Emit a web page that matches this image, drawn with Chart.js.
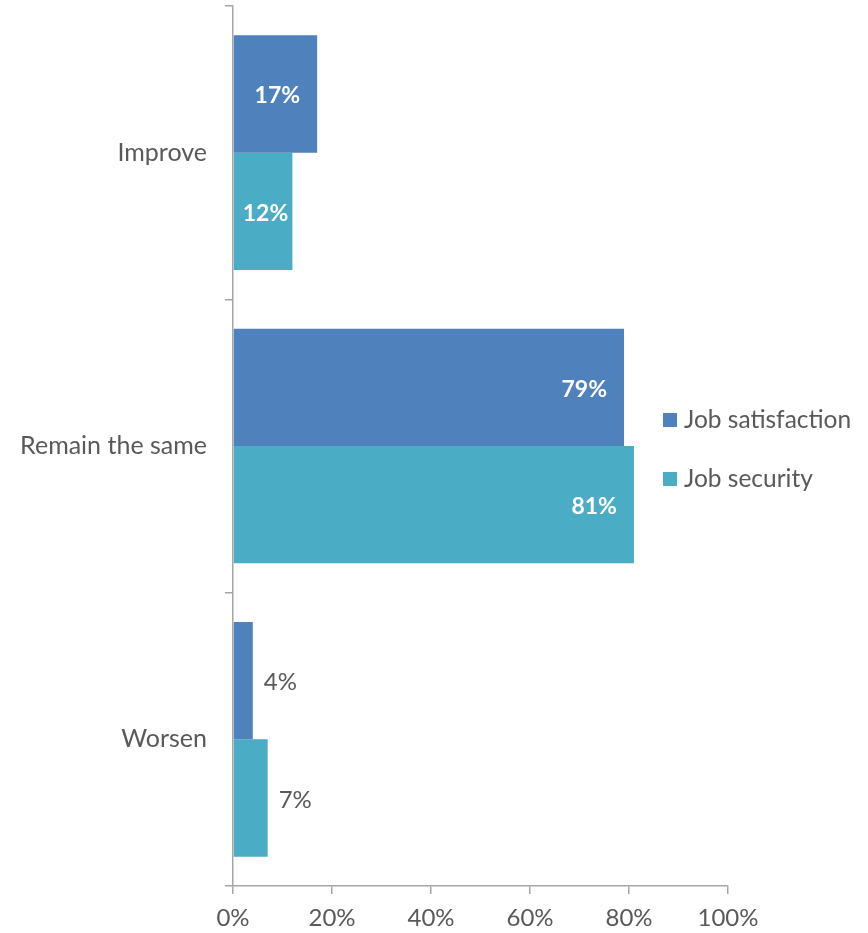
<!DOCTYPE html>
<html>
<head>
<meta charset="utf-8">
<script src="https://cdn.jsdelivr.net/npm/chart.js@4.4.1/dist/chart.umd.min.js"></script>
<style>
  html, body { margin: 0; padding: 0; background: #ffffff; }
  #wrap { width: 868px; height: 933px; position: relative; }
</style>
</head>
<body>
<div id="wrap"><canvas id="chart" width="868" height="933"></canvas></div>
<script>
// Expected change over the coming period
const categories = ['Improve', 'Remain the same', 'Worsen'];
const jobSatisfaction = [17, 79, 4];
const jobSecurity = [12, 81, 7];
const seriesNames = ['Job satisfaction', 'Job security'];
const xTicks = [0, 20, 40, 60, 80, 100];

const FONT = 'Lato, "Open Sans", sans-serif';
const TEXT = '#595959';
const AXIS = '#A6A6A6';

// Value labels: bold white inside the bar end, or grey just outside for short bars
const valueLabels = {
  id: 'valueLabels',
  afterDatasetsDraw(chart) {
    const ctx = chart.ctx;
    ctx.save();
    ctx.textBaseline = 'middle';
    chart.data.datasets.forEach((ds, di) => {
      const meta = chart.getDatasetMeta(di);
      meta.data.forEach((bar, i) => {
        const v = ds.data[i];
        const txt = v + '%';
        if (v >= 10) {
          ctx.font = 'bold 23px ' + FONT;
          ctx.fillStyle = '#ffffff';
          const w = ctx.measureText(txt).width;
          let left = bar.x - 17 - w;
          if (left < bar.base + 9) left = bar.base + 9;
          ctx.textAlign = 'left';
          ctx.fillText(txt, left, bar.y + 2);
        } else {
          ctx.font = '24px ' + FONT;
          ctx.fillStyle = TEXT;
          ctx.textAlign = 'left';
          ctx.fillText(txt, bar.x + 11, bar.y + 2);
        }
      });
    });
    ctx.restore();
  }
};

// Legend to the right of the plot, vertically centred
const sideLegend = {
  id: 'sideLegend',
  afterDraw(chart) {
    const ctx = chart.ctx;
    ctx.save();
    ctx.font = '24.5px ' + FONT;
    ctx.textBaseline = 'middle';
    ctx.textAlign = 'left';
    const ys = [420, 479];
    chart.data.datasets.forEach((ds, i) => {
      ctx.fillStyle = ds.backgroundColor;
      ctx.fillRect(663, ys[i] - 7, 14, 14);
      ctx.fillStyle = TEXT;
      ctx.fillText(ds.label, 684, ys[i]);
    });
    ctx.restore();
  }
};

new Chart(document.getElementById('chart'), {
  type: 'bar',
  data: {
    labels: categories,
    datasets: [
      { label: seriesNames[0], data: jobSatisfaction, backgroundColor: '#4F81BD' },
      { label: seriesNames[1], data: jobSecurity, backgroundColor: '#4BACC6' }
    ]
  },
  options: {
    indexAxis: 'y',
    responsive: false,
    animation: false,
    devicePixelRatio: 1,
    categoryPercentage: 0.8,
    barPercentage: 1.0,
    layout: { padding: { top: 6, right: 140, left: 0, bottom: 0 } },
    plugins: {
      legend: { display: false },
      tooltip: { enabled: false }
    },
    scales: {
      x: {
        min: 0,
        max: 100,
        afterBuildTicks(scale) { scale.ticks = xTicks.map(v => ({ value: v })); },
        afterFit(scale) { scale.height = 47; scale.paddingLeft = 0; scale.paddingRight = 0; },
        border: { display: true, color: AXIS, width: 1.5 },
        grid: { display: true, drawOnChartArea: false, drawTicks: true, tickLength: 8, color: AXIS, lineWidth: 1.5 },
        ticks: {
          color: TEXT,
          font: { family: FONT, size: 24 },
          padding: 10,
          maxRotation: 0,
          callback: v => v + '%'
        }
      },
      y: {
        afterFit(scale) { scale.width = 233; scale.paddingTop = 0; scale.paddingBottom = 0; },
        border: { display: true, color: AXIS, width: 1.5 },
        grid: { display: true, offset: true, drawOnChartArea: false, drawTicks: true, tickLength: 8, color: AXIS, lineWidth: 1.5 },
        ticks: {
          color: TEXT,
          font: { family: FONT, size: 25 },
          padding: 18
        }
      }
    }
  },
  plugins: [valueLabels, sideLegend]
});
</script>
</body>
</html>
